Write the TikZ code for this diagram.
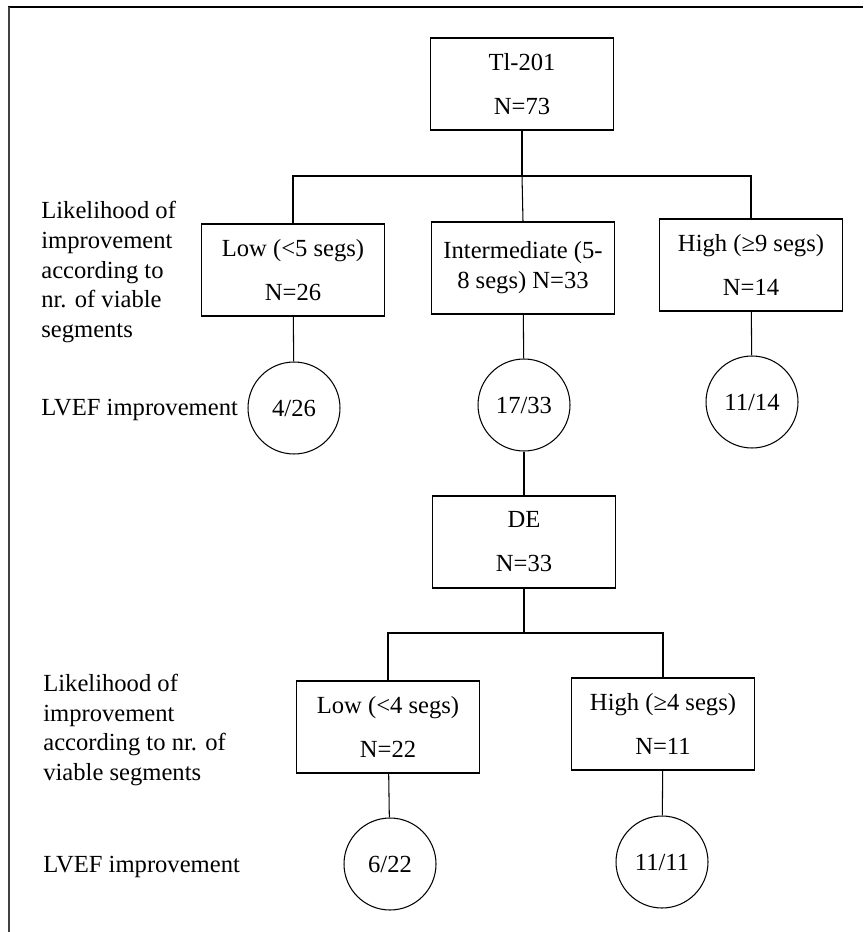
\documentclass[tikz,border=0pt]{standalone}
\usepackage{fontspec}
\setmainfont{Liberation Serif}

\begin{document}
\begin{tikzpicture}[%
  x=0.02cm, y=-0.02cm,
  font=\fontsize{14}{17}\selectfont,
  line/.style = {line width=0.6pt},
  box/.style = {draw, line width=0.6pt, minimum width=3.66cm,
    minimum height=1.84cm, align=center, inner sep=2pt},
  ratio/.style = {draw, line width=0.6pt, circle, minimum size=1.84cm,
    inner sep=0pt},
  side/.style = {anchor=west, align=left, inner sep=0pt},
]
  \useasboundingbox (0,0) rectangle (863,932);
  \draw[line width=1.6pt] (8,7) -- (863,7);
  \draw[line width=1.1pt, black!75] (9,7) -- (9,932);

  \node[box] (T) at (522,84) {Tl-201\\[8pt]N=73};

  \node[box] (L) at (293,270) {Low (<5 segs)\\[8pt]N=26};
  \node[box] (M) at (523,268) {Intermediate (5-\\8 segs) N=33};
  \node[box] (H) at (751,265) {High (≥9 segs)\\[8pt]N=14};

  \node[side] (K1) at (41,272)
    {Likelihood of\\improvement\\according to\\nr. of viable\\segments};
  \node[side] (V1) at (41,410) {LVEF improvement};

  \node[ratio] (CL) at (294,408) {4/26};
  \node[ratio] (CM) at (524,405) {17/33};
  \node[ratio] (CH) at (752,402) {11/14};

  \node[box] (D) at (524,542) {DE\\[8pt]N=33};

  \node[box] (L2) at (388,727) {Low (<4 segs)\\[8pt]N=22};
  \node[box] (H2) at (663,724) {High (≥4 segs)\\[8pt]N=11};

  \node[side] (K2) at (43,730)
    {Likelihood of\\improvement\\according to nr. of\\viable segments};
  \node[side] (V2) at (43,867) {LVEF improvement};

  \node[ratio] (CL2) at (390,864) {6/22};
  \node[ratio] (CH2) at (662,862) {11/11};

  \coordinate (S1) at (522,176);
  \coordinate (S2) at (524,633);

  \draw[line] (T) -- (S1);
  \draw[line] (L.north) |- (S1) -| (H.north);
  \draw[line] (S1) -- (M.north);
  \draw[line] (L) -- (CL);
  \draw[line] (M) -- (CM);
  \draw[line] (H) -- (CH);
  \draw[line] (CM) -- (D);
  \draw[line] (D) -- (S2);
  \draw[line] (L2.north) |- (S2) -| (H2.north);
  \draw[line] (L2) -- (CL2);
  \draw[line] (H2) -- (CH2);

\end{tikzpicture}
\end{document}
